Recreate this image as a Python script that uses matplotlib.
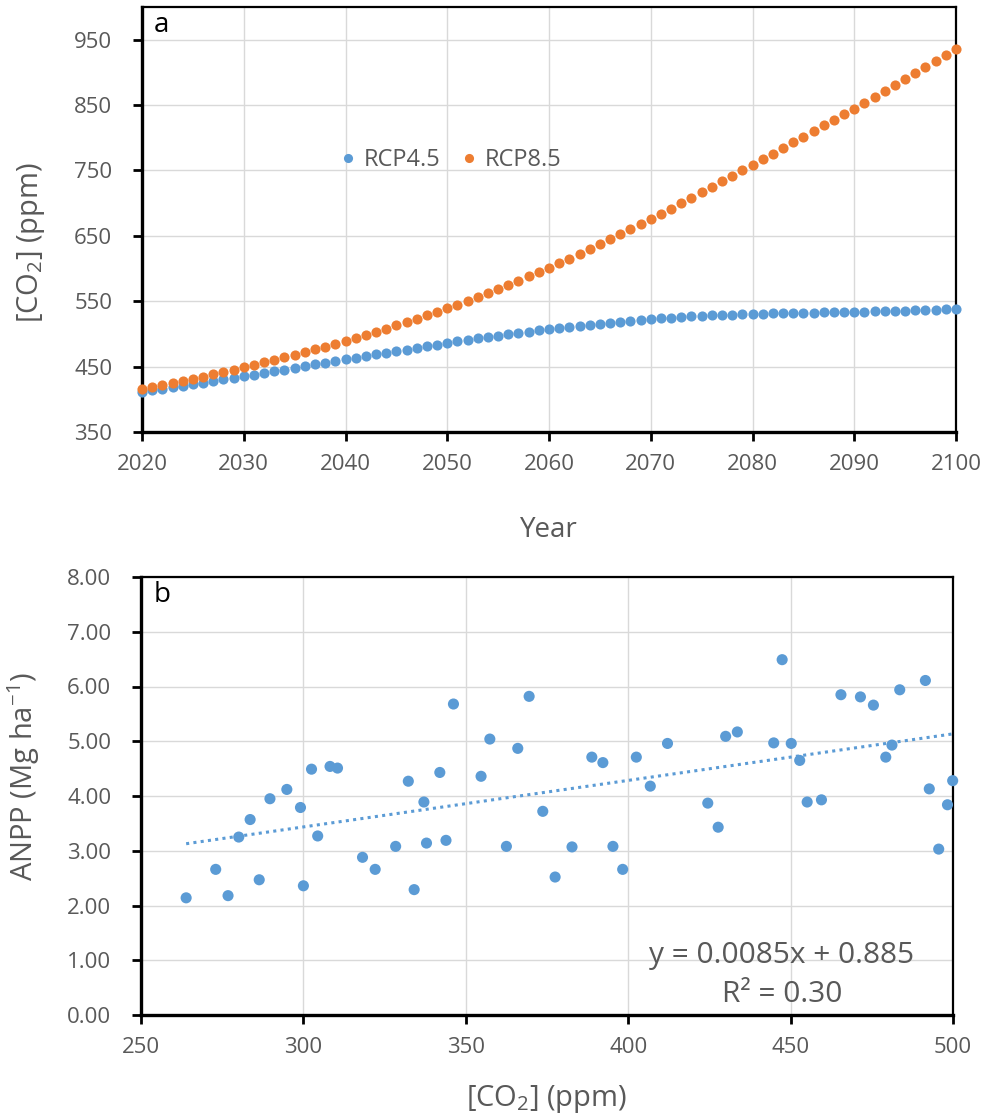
import matplotlib
matplotlib.use("Agg")
import matplotlib.pyplot as plt
import numpy as np

plt.rcParams['font.family'] = ['Open Sans', 'DejaVu Sans']
plt.rcParams['mathtext.fontset'] = 'custom'
plt.rcParams['mathtext.rm'] = 'Open Sans'
plt.rcParams['mathtext.it'] = 'Open Sans:italic'
plt.rcParams['mathtext.default'] = 'regular'

# ---------------- Panel a data ----------------
years = list(range(2020, 2101))
rcp45 = [
    411.1, 413.5, 415.9, 418.3, 420.7, 423.1, 425.5, 427.9, 430.3, 432.7,
    435.1, 437.7, 440.3, 442.9, 445.5, 448.1, 450.7, 453.3, 455.9, 458.5,
    461.1, 463.6, 466.1, 468.6, 471.1, 473.6, 476.1, 478.6, 481.1, 483.6,
    486.1, 488.5, 490.8, 493.1, 495.3, 497.5, 499.6, 501.6, 503.6, 505.5,
    507.3, 509.1, 510.9, 512.6, 514.3, 515.9, 517.4, 518.9, 520.3, 521.6,
    522.9, 524.0, 525.0, 525.9, 526.7, 527.5, 528.2, 528.9, 529.5, 530.1,
    530.6, 531.0, 531.4, 531.7, 532.0, 532.3, 532.6, 532.9, 533.2, 533.5,
    533.8, 534.2, 534.6, 535.0, 535.4, 535.8, 536.2, 536.6, 537.0, 537.4,
    537.8,
]
rcp85 = [
    415.8, 418.8, 421.9, 425.0, 428.2, 431.5, 434.8, 438.2, 441.7, 445.3,
    449.0, 452.7, 456.4, 460.3, 464.2, 468.2, 472.3, 476.5, 480.7, 485.0,
    489.4, 493.9, 498.5, 503.2, 508.0, 513.0, 518.0, 523.1, 528.3, 533.6,
    539.0, 544.6, 550.4, 556.4, 562.5, 568.7, 575.0, 581.4, 587.9, 594.5,
    601.2, 608.2, 615.3, 622.5, 629.8, 637.2, 644.7, 652.3, 660.0, 667.8,
    675.7, 683.7, 691.8, 700.0, 708.2, 716.5, 724.9, 733.3, 741.8, 750.3,
    758.9, 767.4, 775.9, 784.4, 793.0, 801.6, 810.2, 818.8, 827.4, 836.0,
    844.7, 853.6, 862.6, 871.6, 880.6, 889.7, 898.8, 907.9, 917.1, 926.3,
    935.5,
]
a_xticks = [2020, 2030, 2040, 2050, 2060, 2070, 2080, 2090, 2100]
a_yticks = [350, 450, 550, 650, 750, 850, 950]

# ---------------- Panel b data ----------------
co2_b = [
    263.9, 273.0, 276.8, 280.1, 283.6, 286.4, 289.7, 294.9, 299.1, 300.0,
    302.5, 304.4, 308.2, 310.5, 318.2, 322.1, 328.4, 332.3, 334.1, 337.1,
    337.9, 342.0, 343.9, 346.2, 354.7, 357.4, 362.5, 366.0, 369.5, 373.7,
    377.5, 382.7, 388.8, 392.2, 395.3, 398.3, 402.5, 406.8, 412.1, 424.5,
    427.7, 430.0, 433.6, 444.8, 447.4, 450.2, 452.8, 455.1, 459.5, 465.5,
    471.5, 475.5, 479.3, 481.2, 483.6, 491.5, 492.7, 495.6, 498.3, 499.9,
]
anpp_b = [
    2.14, 2.66, 2.18, 3.25, 3.57, 2.47, 3.95, 4.12, 3.79, 2.36,
    4.49, 3.27, 4.54, 4.51, 2.88, 2.66, 3.08, 4.27, 2.29, 3.89,
    3.14, 4.43, 3.19, 5.68, 4.36, 5.04, 3.08, 4.87, 5.82, 3.72,
    2.52, 3.07, 4.71, 4.61, 3.08, 2.66, 4.71, 4.18, 4.96, 3.87,
    3.43, 5.09, 5.17, 4.97, 6.49, 4.96, 4.65, 3.89, 3.93, 5.85,
    5.81, 5.66, 4.71, 4.93, 5.94, 6.11, 4.13, 3.03, 3.84, 4.28,
]
trend_slope = 0.0085
trend_intercept = 0.885
trend_label = "y = 0.0085x + 0.885"
r2_label = "R² = 0.30"
b_xticks = [250, 300, 350, 400, 450, 500]
b_yticks = [0, 1, 2, 3, 4, 5, 6, 7, 8]

BLUE = '#5B9BD5'
ORANGE = '#ED7D31'
GRAY = '#595959'
GRID = '#D9D9D9'

W, H = 987, 1114
fig = plt.figure(figsize=(W / 100, H / 100), dpi=100)

def px_axes(l, t, r, b):
    return fig.add_axes([l / W, 1 - b / H, (r - l) / W, (b - t) / H])

def style(ax):
    ax.grid(True, color=GRID, linewidth=1.0, zorder=0)
    ax.set_axisbelow(True)
    for s in ['left', 'bottom']:
        ax.spines[s].set_linewidth(2.4)
    for s in ['top', 'right']:
        ax.spines[s].set_linewidth(1.6)
    for s in ax.spines.values():
        s.set_color('black')
    ax.tick_params(axis='both', direction='out', length=6.5, width=2.0,
                   colors='black', labelcolor=GRAY, labelsize=16)
    ax.tick_params(axis='y', pad=15)
    ax.tick_params(axis='x', pad=9)

# ---------------- Panel a ----------------
ax1 = px_axes(142, 7, 956, 432)
ax1.plot(years, rcp45, 'o', color=BLUE, markersize=7.3, markeredgewidth=0,
         label='RCP4.5', zorder=3, clip_on=False)
ax1.plot(years, rcp85, 'o', color=ORANGE, markersize=7.3, markeredgewidth=0,
         label='RCP8.5', zorder=3, clip_on=False)
ax1.set_xlim(2020, 2100)
ax1.set_ylim(350, 1000)
ax1.set_xticks(a_xticks)
ax1.set_yticks(a_yticks)
style(ax1)
ax1.set_xlabel('Year', fontsize=20, color=GRAY, labelpad=30)
ax1.set_ylabel('[CO$_2$] (ppm)', fontsize=21, color=GRAY)
ax1.yaxis.set_label_coords((47 - 142) / 814, 1 - (242 - 7) / 425)
leg = ax1.legend(loc='center', bbox_to_anchor=((447.5 - 142) / 814, 1 - (160 - 7) / 425),
                 ncol=2, frameon=False, fontsize=17, markerscale=0.9,
                 handletextpad=0.05, columnspacing=0.62, handlelength=1.2)
for t in leg.get_texts():
    t.set_color(GRAY)
ax1.text(0.015, 0.99, 'a', transform=ax1.transAxes, fontsize=20,
         color='black', ha='left', va='top')

# ---------------- Panel b ----------------
ax2 = px_axes(141, 577, 953, 1015)
ax2.scatter(co2_b, anpp_b, s=64, color=BLUE, edgecolors='none', zorder=3,
            clip_on=False)
xt = np.array([min(co2_b), max(co2_b)])
ax2.plot(xt, trend_slope * xt + trend_intercept, linestyle=(0, (1, 1.4)),
         color=BLUE, linewidth=2.2, zorder=2)
ax2.set_xlim(250, 500)
ax2.set_ylim(0, 8)
ax2.set_xticks(b_xticks)
ax2.set_yticks(b_yticks)
ax2.set_yticklabels([f'{v:.2f}' for v in b_yticks])
style(ax2)
ax2.set_xlabel('[CO$_2$] (ppm)', fontsize=21, color=GRAY, labelpad=18)
ax2.set_ylabel('ANPP (Mg ha$^{-1}$)', fontsize=21, color=GRAY)
ax2.yaxis.set_label_coords((42 - 141) / 812, 1 - (776 - 577) / 438)
ax2.text(0.015, 0.99, 'b', transform=ax2.transAxes, fontsize=20,
         color='black', ha='left', va='top')
ax2.text((782 - 141) / 812, 1 - (955 - 577) / 438, trend_label,
         transform=ax2.transAxes, fontsize=21.5, color=GRAY, ha='center', va='center')
ax2.text((782 - 141) / 812, 1 - (995 - 577) / 438, r2_label,
         transform=ax2.transAxes, fontsize=21.5, color=GRAY, ha='center', va='center')

fig.savefig('out.png', dpi=100)
